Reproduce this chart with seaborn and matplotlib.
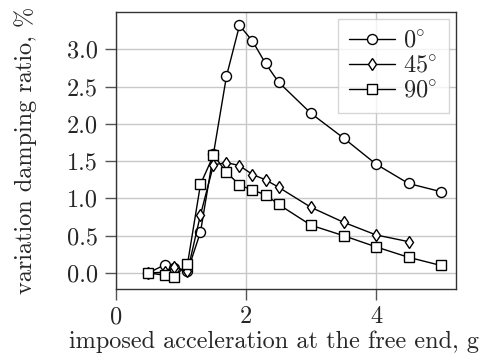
import matplotlib
matplotlib.use("Agg")
import matplotlib.pyplot as plt
import seaborn as sns
import pandas as pd

sns.set_theme(style="whitegrid")
plt.rcParams.update({
    "font.family": ["cmr10", "DejaVu Serif"],
    "mathtext.fontset": "cm",
    "axes.formatter.use_mathtext": True,
    "font.size": 17.5,
})

x0 = [0.5, 0.75, 0.9, 1.1, 1.3, 1.5, 1.7, 1.9, 2.1, 2.3, 2.5, 3.0, 3.5, 4.0, 4.5, 5.0]
y0 = [0.0, 0.11, 0.07, 0.02, 0.55, 1.60, 2.64, 3.32, 3.11, 2.81, 2.56, 2.14, 1.81, 1.46, 1.20, 1.09]
x45 = [0.5, 0.75, 0.9, 1.1, 1.3, 1.5, 1.7, 1.9, 2.1, 2.3, 2.5, 3.0, 3.5, 4.0, 4.5]
y45 = [0.0, 0.01, 0.08, 0.02, 0.78, 1.45, 1.48, 1.44, 1.32, 1.25, 1.15, 0.88, 0.68, 0.51, 0.42]
x90 = [0.5, 0.75, 0.9, 1.1, 1.3, 1.5, 1.7, 1.9, 2.1, 2.3, 2.5, 3.0, 3.5, 4.0, 4.5, 5.0]
y90 = [0.0, -0.03, -0.05, 0.12, 1.19, 1.58, 1.35, 1.18, 1.11, 1.05, 0.92, 0.64, 0.50, 0.35, 0.21, 0.10]
labels = [r"$0\!^\circ$", r"$45\!^\circ$", r"$90\!^\circ$"]
xtick_vals = [0, 2, 4]
ytick_vals = [0.0, 0.5, 1.0, 1.5, 2.0, 2.5, 3.0]
ytick_labels = ["0.0", "0.5", "1.0", "1.5", "2.0", "2.5", "3.0"]

fig = plt.figure(figsize=(4.94, 3.62), dpi=100)
ax = fig.add_axes([0.2348, 0.2017, 0.923 - 0.2348, 0.9669 - 0.2017])

series = [(x0, y0, "o", 7.2), (x45, y45, "d", 6.6), (x90, y90, "s", 7.0)]
for (xs, ys, m, ms), lab in zip(series, labels):
    df = pd.DataFrame({"x": xs, "y": ys})
    sns.lineplot(data=df, x="x", y="y", ax=ax, color="black", lw=1.0,
                 marker=m, markersize=ms, markerfacecolor="white",
                 markeredgecolor="black", markeredgewidth=1.0, label=lab,
                 sort=False)

ax.set_xlim(0, 5.23)
ax.set_ylim(-0.215, 3.5)
ax.set_xticks(xtick_vals)
ax.set_xticklabels([str(v) for v in xtick_vals])
ax.set_yticks(ytick_vals)
ax.set_yticklabels(ytick_labels)
ax.set_xlabel("imposed acceleration at the free end, g", fontsize=17.5)
ax.set_ylabel("variation damping ratio, %", fontsize=17.5)
ax.xaxis.set_label_coords(0.465, -0.15)
ax.yaxis.set_label_coords(-0.232, 0.5)
ax.grid(True, color="#c8c8c8", lw=1.0)
for s in ax.spines.values():
    s.set_color("#333333")
    s.set_linewidth(1.0)
ax.tick_params(axis="both", which="major", length=8, width=1.0, color="#555555",
               labelsize=17.5, bottom=True, left=True)
ax.tick_params(axis="x", pad=4.5)
ax.tick_params(axis="y", pad=5)

leg = ax.legend(loc="upper right", fontsize=17.5, handlelength=1.9, frameon=True,
                fancybox=False, framealpha=0.8, edgecolor="#cccccc",
                borderpad=0.45, labelspacing=0.12, handletextpad=0.35,
                borderaxespad=0.3)

fig.savefig("out.png", dpi=100)
